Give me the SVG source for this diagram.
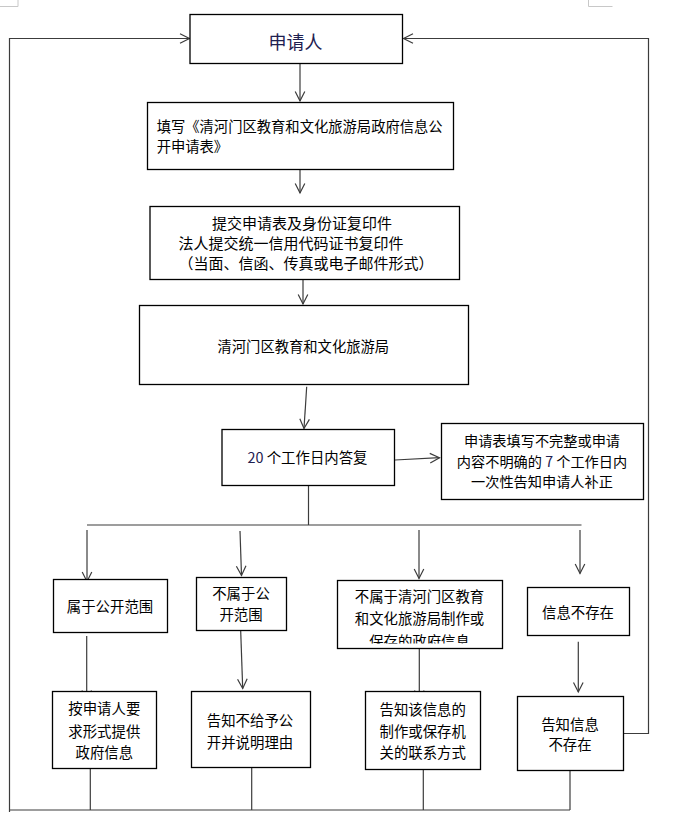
<svg xmlns="http://www.w3.org/2000/svg" width="674" height="822" viewBox="0 0 674 822">
<style>
.box{fill:#fff;stroke:#000;stroke-width:1.3}
.t{font-family:"Noto Sans CJK SC","Noto Sans",sans-serif;font-size:14.4px;fill:#000;text-anchor:middle}
.ts{text-anchor:start}
.c{fill:none;stroke:#3c3c3c;stroke-width:1.2}
.a{marker-end:url(#arr)}
.blue{fill:#1e2050}
.mark{fill:none;stroke:#c8c8c8;stroke-width:1}
</style>
<defs>
<marker id="arr" markerUnits="userSpaceOnUse" markerWidth="14" markerHeight="14" viewBox="-11 -7 14 14" refX="0" refY="0" orient="auto">
<path d="M-9.5,-4.8 L0,0 L-9.5,4.8" fill="none" stroke="#3c3c3c" stroke-width="1.2"/>
</marker>
<clipPath id="clipB3"><rect x="338" y="581" width="164" height="62.5"/></clipPath>
</defs>
<g id="page-marks">
<path class="mark" d="M18,0 V6.5 H0"/>
<path class="mark" d="M588.5,0 V6.5 H612.5"/>
</g>
<g id="connectors">
<path class="c a" d="M9.5,812 V38.5 H189.5"/>
<path class="c a" d="M623.5,733.5 H648.5 V38.5 H403.5"/>
<path class="c a" d="M300,64 V101"/>
<path class="c a" d="M300,170 V193"/>
<path class="c a" d="M303,280 V304"/>
<path class="c a" d="M306.7,386.7 L304,428.5"/>
<path class="c a" d="M395,460 L439.5,457.7"/>
<path class="c" d="M308.5,485.5 V525"/>
<path class="c" d="M87,525 H581.5"/>
<path class="c a" d="M87,530 V581.5"/>
<path class="c a" d="M240,531 L241.5,575.5"/>
<path class="c a" d="M419,530 V578.5"/>
<path class="c a" d="M580,530 V573.5"/>
<path class="c a" d="M86.7,636 V700"/>
<path class="c a" d="M240.7,631 L242.7,688.5"/>
<path class="c a" d="M419.3,649 V700"/>
<path class="c a" d="M578.3,641.7 V692"/>
<path class="c" d="M90.3,769 V810"/>
<path class="c" d="M251.7,768 V810"/>
<path class="c" d="M423.3,770 V810"/>
<path class="c" d="M570,771 V810"/>
<path class="c" d="M9.5,810 H570"/>
</g>
<g id="n-applicant">
<rect class="box" x="190" y="14.5" width="212.5" height="49"/>
<text class="t blue" x="295.5" y="48.5" style="font-size:18px">申请人</text>
</g>
<g id="n-fill-form">
<rect class="box" x="147.5" y="102.5" width="306" height="67"/>
<text class="t ts" x="156.7" y="132" style="font-size:14.3px">填写《清河门区教育和文化旅游局政府信息公</text>
<text class="t ts" x="156.7" y="152" style="font-size:14.3px">开申请表》</text>
</g>
<g id="n-submit">
<rect class="box" x="150" y="206.5" width="309.5" height="73"/>
<text class="t" x="302" y="229" style="font-size:15px">提交申请表及身份证复印件</text>
<text class="t" x="291" y="249" style="font-size:15px">法人提交统一信用代码证书复印件</text>
<text class="t" x="306" y="269" style="font-size:15px">（当面、信函、传真或电子邮件形式）</text>
</g>
<g id="n-bureau">
<rect class="box" x="139.5" y="305.5" width="329" height="79"/>
<text class="t" x="303.3" y="352" style="font-size:14.3px">清河门区教育和文化旅游局</text>
</g>
<g id="n-reply">
<rect class="box" x="222" y="429.5" width="172.5" height="56"/>
<text class="t" x="307.5" y="463"><tspan class="blue">20</tspan> 个工作日内答复</text>
</g>
<g id="n-supplement">
<rect class="box" x="441.5" y="423.5" width="202" height="76"/>
<text class="t" x="542" y="446" style="font-size:14.2px">申请表填写不完整或申请</text>
<text class="t" x="542" y="467" style="font-size:14.2px">内容不明确的 <tspan class="blue">7</tspan> 个工作日内</text>
<text class="t" x="542" y="487" style="font-size:14.2px">一次性告知申请人补正</text>
</g>
<g id="n-public">
<rect class="box" x="53.5" y="579.5" width="114" height="53"/>
<text class="t" x="110" y="612">属于公开范围</text>
</g>
<g id="n-not-public">
<rect class="box" x="196.5" y="577.5" width="90" height="53"/>
<text class="t" x="241" y="599">不属于公</text>
<text class="t" x="241" y="620">开范围</text>
</g>
<g id="n-not-ours">
<rect class="box" x="337.5" y="580.5" width="165" height="68"/>
<text class="t" x="419.5" y="602">不属于清河门区教育</text>
<text class="t" x="419.5" y="624">和文化旅游局制作或</text>
<text class="t" x="419.5" y="646.5" clip-path="url(#clipB3)">保存的政府信息</text>
</g>
<g id="n-not-exist">
<rect class="box" x="527.5" y="587.5" width="102" height="48"/>
<text class="t" x="578" y="617.5">信息不存在</text>
</g>
<g id="n-provide">
<rect class="box" x="52.5" y="691.5" width="104" height="77"/>
<text class="t" x="104.3" y="714">按申请人要</text>
<text class="t" x="104.3" y="736.5">求形式提供</text>
<text class="t" x="104.3" y="757.5">政府信息</text>
</g>
<g id="n-refuse">
<rect class="box" x="191.5" y="691.5" width="119" height="76"/>
<text class="t" x="250" y="726">告知不给予公</text>
<text class="t" x="250" y="747.5">开并说明理由</text>
</g>
<g id="n-contact">
<rect class="box" x="365.5" y="691.5" width="115" height="78"/>
<text class="t" x="422.7" y="715">告知该信息的</text>
<text class="t" x="422.7" y="736.5">制作或保存机</text>
<text class="t" x="422.7" y="758">关的联系方式</text>
</g>
<g id="n-notify-none">
<rect class="box" x="517.5" y="696.5" width="106" height="74"/>
<text class="t" x="570" y="730">告知信息</text>
<text class="t" x="570" y="750">不存在</text>
</g>
</svg>
